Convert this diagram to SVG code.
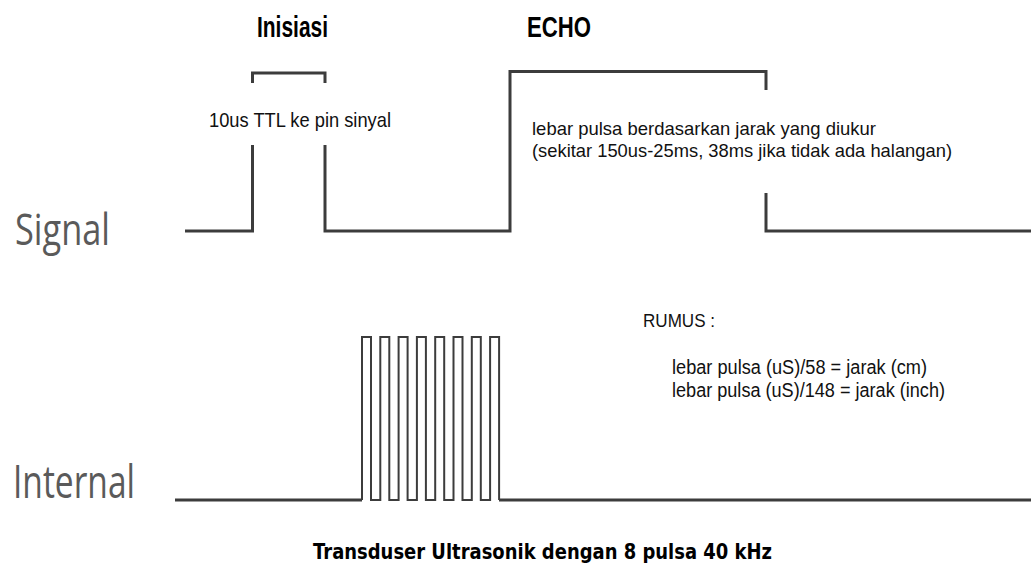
<svg xmlns="http://www.w3.org/2000/svg" width="1031" height="571" viewBox="0 0 1031 571">
  <style>
    .wave { fill: none; stroke: #3c3c3c; stroke-width: 3; stroke-linejoin: miter; }
    .pulse { fill: none; stroke: #3c3c3c; stroke-width: 2; }
    .title { font-family: "Liberation Sans", Arial, sans-serif; font-weight: bold; fill: #000; }
    .note { font-family: "Liberation Sans", Arial, sans-serif; fill: #111; }
    .axis { font-family: "Open Sans", "Noto Sans", sans-serif; fill: #5a5a5a; }
    .foot { font-family: "DejaVu Sans", Verdana, sans-serif; font-weight: bold; fill: #000; }
  </style>
  <rect x="0" y="0" width="1031" height="571" fill="#ffffff"/>

  <g id="connectors">
    <path id="signal-wave" class="wave" d="M185,231 H252.5 V145 M252.5,83 V73 H325 V83 M325,145 V231 H510 V71.5 H766 V90 M766,193 V231 H1031"/>
    <path id="internal-base" class="wave" d="M175,500 H362 M499,500 H1031"/>
    <path id="internal-pulses" class="pulse" d="M362,500 V337 H371 V500 H380.3 V337 H389.3 V500 H398.6 V337 H407.6 V500 H416.9 V337 H425.9 V500 H435.2 V337 H444.2 V500 H453.5 V337 H462.5 V500 H471.8 V337 H480.8 V500 H490.1 V337 H499.1 V500"/>
  </g>

  <g id="label-signal">
    <text class="axis" x="15" y="245" font-size="44" textLength="95" lengthAdjust="spacingAndGlyphs">Signal</text>
  </g>
  <g id="label-internal">
    <text class="axis" x="13" y="498" font-size="45" textLength="122" lengthAdjust="spacingAndGlyphs">Internal</text>
  </g>

  <g id="title-inisiasi">
    <text class="title" x="257" y="37" font-size="30" textLength="71" lengthAdjust="spacingAndGlyphs">Inisiasi</text>
  </g>
  <g id="title-echo">
    <text class="title" x="527" y="37" font-size="29" textLength="64" lengthAdjust="spacingAndGlyphs">ECHO</text>
  </g>

  <g id="note-ttl">
    <text class="note" x="209" y="127" font-size="21" textLength="182" lengthAdjust="spacingAndGlyphs">10us TTL ke pin sinyal</text>
  </g>

  <g id="note-echo">
    <text class="note" x="532" y="135" font-size="18.5" textLength="344" lengthAdjust="spacingAndGlyphs">lebar pulsa berdasarkan jarak yang diukur</text>
    <text class="note" x="532" y="157" font-size="18.5" textLength="420" lengthAdjust="spacingAndGlyphs">(sekitar 150us-25ms, 38ms jika tidak ada halangan)</text>
  </g>

  <g id="note-rumus">
    <text class="note" x="643" y="327" font-size="19" textLength="72" lengthAdjust="spacingAndGlyphs">RUMUS :</text>
    <text class="note" x="672" y="374" font-size="20" textLength="255" lengthAdjust="spacingAndGlyphs">lebar pulsa (uS)/58 = jarak (cm)</text>
    <text class="note" x="672" y="397" font-size="20" textLength="273" lengthAdjust="spacingAndGlyphs">lebar pulsa (uS)/148 = jarak (inch)</text>
  </g>

  <g id="caption">
    <text class="foot" x="313" y="559" font-size="22" textLength="459" lengthAdjust="spacingAndGlyphs">Transduser Ultrasonik dengan 8 pulsa 40 kHz</text>
  </g>
</svg>
